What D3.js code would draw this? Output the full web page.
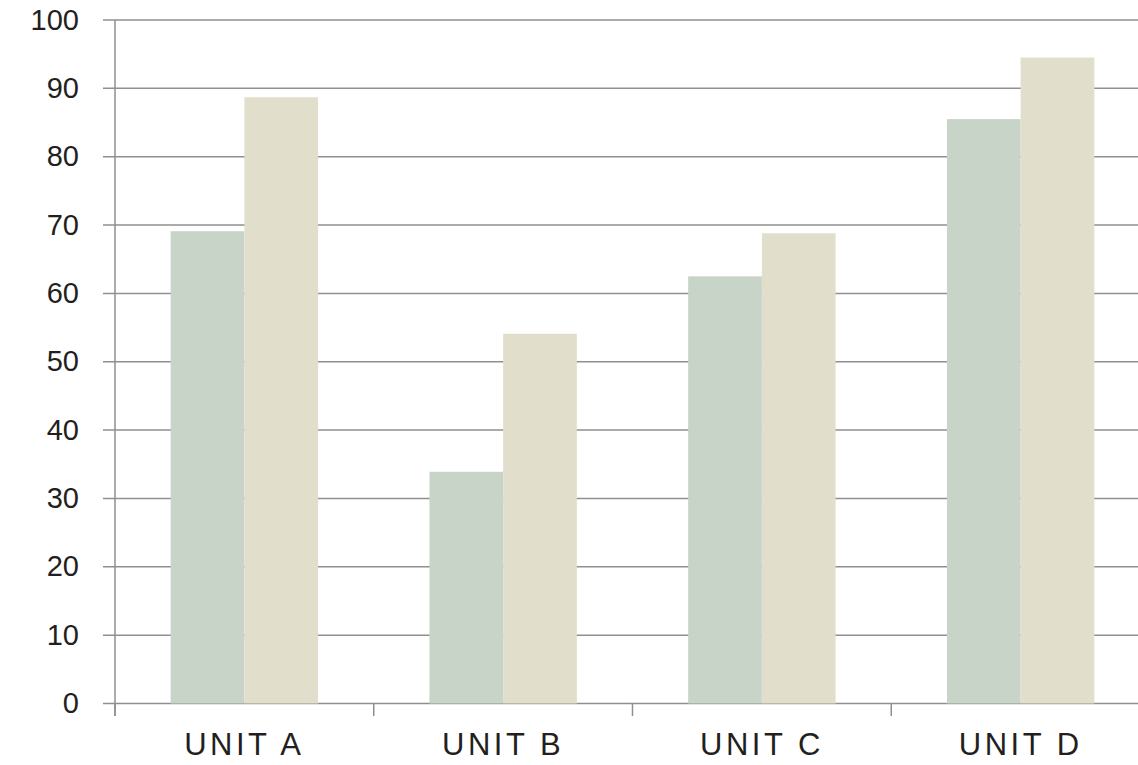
<!DOCTYPE html>
<html>
<head>
<meta charset="utf-8">
<script src="https://cdn.jsdelivr.net/npm/d3@7"></script>
<style>
  body { margin: 0; background: #fff; }
  svg { display: block; }
  .tick-label { font-family: "Liberation Sans", Arial, sans-serif; fill: #231f20; }
</style>
</head>
<body>
<svg id="chart"></svg>
<script>
// data
const categories = ["UNIT A", "UNIT B", "UNIT C", "UNIT D"];
const seriesNames = ["first", "second"];
const firstValues = [69.1, 33.9, 62.5, 85.5];
const secondValues = [88.7, 54.1, 68.8, 94.5];
const yTicks = [0, 10, 20, 30, 40, 50, 60, 70, 80, 90, 100];
const colors = ["#c9d4c9", "#e1dfcb"];

const W = 1138, H = 765;
const svg = d3.select("#chart").attr("width", W).attr("height", H);

const x0 = d3.scaleBand()
    .domain(categories)
    .range([115, 1150])
    .padding(0);

const x1 = d3.scaleBand()
    .domain(seriesNames)
    .range([0, x0.bandwidth()])
    .paddingInner(0)
    .paddingOuter(0.755);

const y = d3.scaleLinear()
    .domain([0, 100])
    .range([703.5, 20]);

const color = d3.scaleOrdinal().domain(seriesNames).range(colors);

// gridlines (incl. the zero line), with the short stub left of the axis
svg.append("g")
    .selectAll("line")
    .data(yTicks)
    .enter().append("line")
    .attr("x1", 103)
    .attr("x2", W)
    .attr("y1", d => y(d))
    .attr("y2", d => y(d))
    .attr("stroke", "#8f8f8f")
    .attr("stroke-width", 1.5);

// y tick labels
svg.append("g")
    .selectAll("text")
    .data(yTicks)
    .enter().append("text")
    .attr("class", "tick-label")
    .attr("x", 79)
    .attr("y", d => y(d) + 2)
    .attr("text-anchor", "end")
    .attr("dominant-baseline", "middle")
    .style("font-size", "29px")
    .text(d => d);

// bars
const rows = categories.map((c, i) => ({ cat: c, values: [firstValues[i], secondValues[i]] }));

svg.append("g")
    .selectAll("g")
    .data(rows)
    .enter().append("g")
    .attr("transform", d => `translate(${x0(d.cat)},0)`)
    .selectAll("rect")
    .data(d => seriesNames.map((s, j) => ({ key: s, value: d.values[j] })))
    .enter().append("rect")
    .attr("x", d => x1(d.key))
    .attr("y", d => y(d.value))
    .attr("width", x1.bandwidth())
    .attr("height", d => y(0) - y(d.value))
    .style("fill", d => color(d.key));

// y axis line
svg.append("line")
    .attr("x1", 115).attr("x2", 115)
    .attr("y1", y(100)).attr("y2", 716)
    .attr("stroke", "#8f8f8f")
    .attr("stroke-width", 1.5);

// x axis: ticks at category boundaries, labels centered
const xAxis = svg.append("g")
    .attr("transform", `translate(0,${y(0)})`)
    .call(d3.axisBottom(x0).tickSize(0).tickPadding(29));

xAxis.select(".domain").remove();
xAxis.selectAll(".tick text")
    .attr("class", "tick-label")
    .style("font-size", "31px")
    .style("letter-spacing", "3.5px")
    .style("font-family", "'Liberation Sans', Arial, sans-serif")
    .attr("fill", "#231f20");

xAxis.selectAll(".boundary")
    .data(categories)
    .enter().append("line")
    .attr("class", "boundary")
    .attr("x1", d => x0(d))
    .attr("x2", d => x0(d))
    .attr("y1", 0)
    .attr("y2", 12.5)
    .attr("stroke", "#8f8f8f")
    .attr("stroke-width", 1.5);
</script>
</body>
</html>
